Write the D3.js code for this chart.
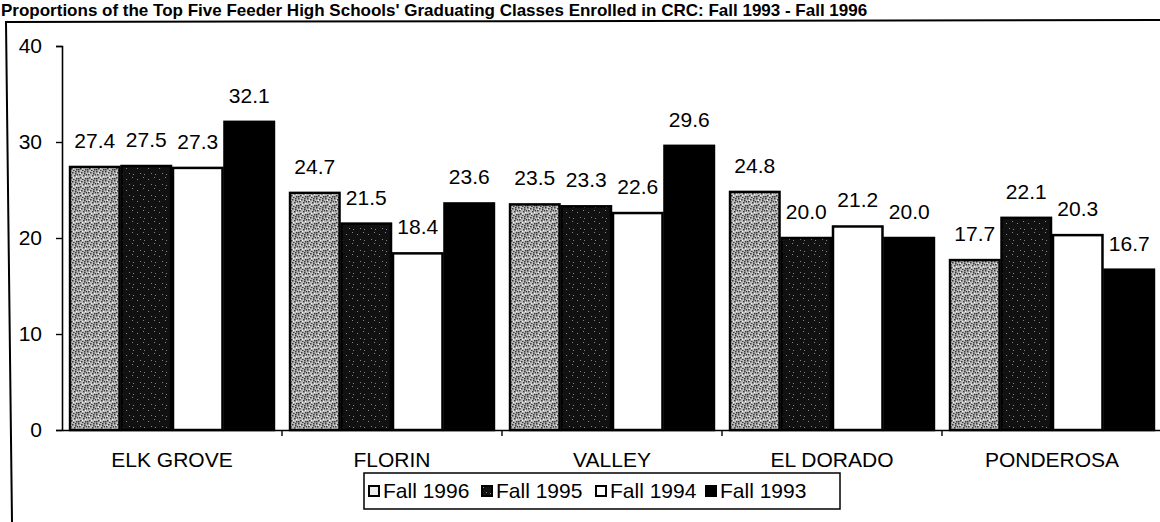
<!DOCTYPE html>
<html>
<head>
  <title>Top Five Feeder High Schools</title>
<style>

body {
  margin: 0;
  background: #fff;
}

svg {
  display: block;
  font-family: Arial, 'Liberation Sans', sans-serif;
}

</style>
</head>
<body>
<svg width="1160" height="522"></svg>
<script src="https://d3js.org/d3.v7.min.js"></script>
<script>

// -------------------------------------------------------------------------
// DATA
// -------------------------------------------------------------------------
var title = "Proportions of the Top Five Feeder High Schools' Graduating Classes Enrolled in CRC: Fall 1993 - Fall 1996";

var schools = ["ELK GROVE", "FLORIN", "VALLEY", "EL DORADO", "PONDEROSA"];
var seriesNames = ["Fall 1996", "Fall 1995", "Fall 1994", "Fall 1993"];

var fall1996 = [27.4, 24.7, 23.5, 24.8, 17.7],
    fall1995 = [27.5, 21.5, 23.3, 20.0, 22.1],
    fall1994 = [27.3, 18.4, 22.6, 21.2, 20.3],
    fall1993 = [32.1, 23.6, 29.6, 20.0, 16.7];

var yTicks = [0, 10, 20, 30, 40];

var values = [fall1996, fall1995, fall1994, fall1993];

// -------------------------------------------------------------------------
// OPTIONS
// -------------------------------------------------------------------------
var opts = {
    left: 62,
    right: 1162,
    bottom: 430,
    top: 46,
    fill: ["url(#light)", "url(#dark)", "#fff", "#000"]
  };

var svg = d3.select("svg");

// speckled fills, to look like the scanned halftone
var defs = svg.append("defs");

var light = defs.append("pattern")
    .attr("id", "light")
    .attr("width", 9).attr("height", 9)
    .attr("patternUnits", "userSpaceOnUse");
light.append("rect").attr("width", 9).attr("height", 9).attr("fill", "#bdbdbd");
[[0,0],[3,1],[6,0],[1,3],[5,4],[8,3],[2,6],[7,7],[4,8],[0,7],[6,2]].forEach(function(p) {
  light.append("rect").attr("x", p[0]).attr("y", p[1])
      .attr("width", 1.5).attr("height", 1.5).attr("fill", "#333");
});
[[2,2],[7,5],[4,6]].forEach(function(p) {
  light.append("rect").attr("x", p[0]).attr("y", p[1])
      .attr("width", 1).attr("height", 1).attr("fill", "#fff");
});

var dark = defs.append("pattern")
    .attr("id", "dark")
    .attr("width", 11).attr("height", 11)
    .attr("patternUnits", "userSpaceOnUse");
dark.append("rect").attr("width", 11).attr("height", 11).attr("fill", "#111");
[[2,3],[8,1],[5,8],[9,9]].forEach(function(p) {
  dark.append("rect").attr("x", p[0]).attr("y", p[1])
      .attr("width", 1).attr("height", 1).attr("fill", "#888");
});

// -------------------------------------------------------------------------
// FRAME AND TITLE
// -------------------------------------------------------------------------
svg.append("text")
    .attr("x", 1)
    .attr("y", 16)
    .attr("font-size", 17)
    .attr("font-weight", "bold")
    .text(title);

svg.append("path")
    .attr("d", "M12,522 L6,22 L1160,20")
    .attr("fill", "none")
    .attr("stroke", "#000")
    .attr("stroke-width", 2);

// -------------------------------------------------------------------------
// SCALES AND AXES
// -------------------------------------------------------------------------
var x0 = d3.scaleBand()
    .domain(schools)
    .range([opts.left, opts.right])
    .paddingInner(0.064)
    .paddingOuter(0.032);

var x1 = d3.scaleBand()
    .domain(seriesNames)
    .range([0, x0.bandwidth()]);

var y = d3.scaleLinear()
    .domain([0, 40])
    .range([opts.bottom, opts.top]);

var yAxis = svg.append("g")
    .attr("transform", "translate(" + opts.left + ",0)")
    .call(d3.axisLeft(y).tickValues(yTicks).tickSize(6).tickPadding(14));

var xAxis = svg.append("g")
    .attr("transform", "translate(0," + opts.bottom + ")")
    .call(d3.axisBottom(x0).tickSize(0).tickPadding(22));

[yAxis, xAxis].forEach(function(a) {
  a.select(".domain").attr("stroke", "#000").attr("stroke-width", 1.6);
  a.selectAll("text")
      .attr("font-family", "Arial, 'Liberation Sans', sans-serif")
      .attr("font-size", 21)
      .attr("fill", "#000");
});
yAxis.selectAll("line").attr("stroke-width", 1.4);

// category boundary ticks
svg.append("g").selectAll("line")
    .data(schools.slice(1))
  .enter().append("line")
    .attr("x1", function(d) { return x0(d) - x0.step() * x0.paddingInner() / 2; })
    .attr("x2", function(d) { return x0(d) - x0.step() * x0.paddingInner() / 2; })
    .attr("y1", opts.bottom)
    .attr("y2", opts.bottom + 6)
    .attr("stroke", "#000")
    .attr("stroke-width", 1.4);

// -------------------------------------------------------------------------
// BARS AND LABELS
// -------------------------------------------------------------------------
var groups = svg.append("g").selectAll("g")
    .data(schools)
  .enter().append("g")
    .attr("transform", function(d) { return "translate(" + x0(d) + ",0)"; });

var cells = groups.selectAll("g")
    .data(function(d, i) {
      return seriesNames.map(function(s, j) {
        return { series: s, j: j, value: values[j][i] };
      });
    })
  .enter().append("g");

cells.append("rect")
    .attr("x", function(d) { return x1(d.series) + 1; })
    .attr("y", function(d) { return y(d.value); })
    .attr("width", x1.bandwidth() - 2)
    .attr("height", function(d) { return opts.bottom - y(d.value); })
    .attr("fill", function(d) { return opts.fill[d.j]; })
    .attr("stroke", "#000")
    .attr("stroke-width", 2.5);

cells.append("text")
    .attr("x", function(d) { return x1(d.series) + x1.bandwidth() / 2; })
    .attr("y", function(d) { return y(d.value) - 19; })
    .attr("text-anchor", "middle")
    .attr("font-size", 21)
    .text(function(d) { return d.value.toFixed(1); });

// -------------------------------------------------------------------------
// LEGEND
// -------------------------------------------------------------------------
var legend = svg.append("g")
    .attr("transform", "translate(364,473)");

legend.append("rect")
    .attr("width", 476)
    .attr("height", 36)
    .attr("fill", "#fff")
    .attr("stroke", "#000")
    .attr("stroke-width", 1.5);

var legendX = [4, 117, 231, 341];

var items = legend.selectAll("g.item")
    .data(seriesNames)
  .enter().append("g")
    .attr("class", "item")
    .attr("transform", function(d, i) { return "translate(" + legendX[i] + ",0)"; });

items.append("rect")
    .attr("x", 1)
    .attr("y", 13)
    .attr("width", 10)
    .attr("height", 10)
    .attr("fill", function(d, i) { return i === 0 ? "#eee" : opts.fill[i]; })
    .attr("stroke", "#000")
    .attr("stroke-width", 2);

items.append("text")
    .attr("x", 15)
    .attr("y", 25)
    .attr("font-size", 21)
    .text(function(d) { return d; });

</script>
</body>
</html>
